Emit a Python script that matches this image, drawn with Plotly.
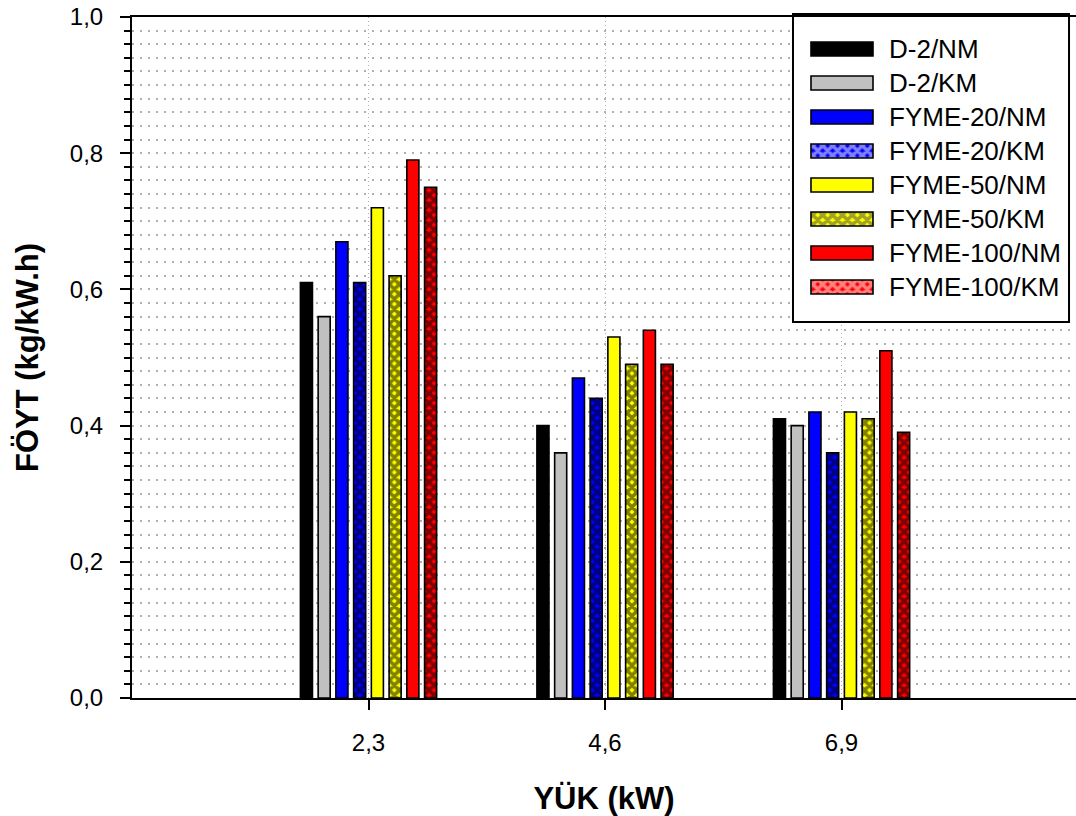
import plotly.graph_objects as go

# Engine load (kW) and specific fuel consumption per fuel / mode
loads = [2.3, 4.6, 6.9]

series_names = [
    "D-2/NM", "D-2/KM",
    "FYME-20/NM", "FYME-20/KM",
    "FYME-50/NM", "FYME-50/KM",
    "FYME-100/NM", "FYME-100/KM",
]

d2_nm = [0.61, 0.40, 0.41]
d2_km = [0.56, 0.36, 0.40]
fyme20_nm = [0.67, 0.47, 0.42]
fyme20_km = [0.61, 0.44, 0.36]
fyme50_nm = [0.72, 0.53, 0.42]
fyme50_km = [0.62, 0.49, 0.41]
fyme100_nm = [0.79, 0.54, 0.51]
fyme100_km = [0.75, 0.49, 0.39]

series_values = [d2_nm, d2_km, fyme20_nm, fyme20_km,
                 fyme50_nm, fyme50_km, fyme100_nm, fyme100_km]

colors = ["#000000", "#c0c0c0", "#0000ff", "#0000ff",
          "#ffff00", "#ffff00", "#ff0000", "#ff0000"]
hatches = ["", "", "", "x", "", "x", "", "x"]

y_ticks = [0.0, 0.2, 0.4, 0.6, 0.8, 1.0]

FONT = "Arial, Liberation Sans, sans-serif"
GRID = "#b0b0b0"
HATCH = dict(fgcolor="black", size=7, solidity=0.75, fillmode="overlay")

fig = go.Figure()

for name, vals, col, hatch in zip(series_names, series_values, colors, hatches):
    fig.add_trace(go.Bar(
        x=loads, y=vals, name=name,
        marker=dict(
            color=col,
            line=dict(color="black", width=1.6),
            pattern=dict(shape=hatch, **HATCH),
        ),
        showlegend=False,
    ))

# Legend drawn as an inset subplot: one swatch bar per series
fig.add_trace(go.Bar(
    x=[1] * len(series_names), y=series_names, orientation="h",
    xaxis="x2", yaxis="y2",
    marker=dict(
        color=colors,
        line=dict(color="black", width=1.6),
        pattern=dict(shape=hatches, **HATCH),
    ),
    showlegend=False, hoverinfo="skip",
))

for name in series_names:
    fig.add_annotation(
        x=0.7998, xref="paper", y=name, yref="y2",
        text=name, showarrow=False, xanchor="left", yanchor="middle",
        font=dict(family=FONT, size=26, color="black"),
    )

# Legend frame
fig.add_shape(type="rect", xref="paper", yref="paper",
              x0=0.7002, x1=0.9926, y0=0.5521, y1=1.0044,
              line=dict(color="black", width=2), layer="above")

fig.update_layout(
    width=1076, height=816,
    margin=dict(l=132, r=0, t=17, b=118),
    paper_bgcolor="white", plot_bgcolor="white",
    separators=", ",
    barmode="group", bargap=0.40, bargroupgap=0.32,
    font=dict(family=FONT, color="black"),
    xaxis=dict(
        range=[0, 9.18], tickvals=loads, tickformat=".1f",
        ticks="outside", ticklen=10, tickwidth=2, tickcolor="black",
        showline=True, linecolor="black", linewidth=2, mirror=True,
        showgrid=True, gridcolor=GRID, griddash="1px,3px", gridwidth=1,
        zeroline=False,
        tickfont=dict(family=FONT, size=24, color="black"),
        ticklabelstandoff=12,
        title=dict(text="<b>YÜK (kW)</b>", standoff=34,
                   font=dict(family=FONT, size=31, color="black")),
    ),
    yaxis=dict(
        range=[0, 1], tickvals=y_ticks, tickformat=".1f",
        ticks="outside", ticklen=10, tickwidth=2, tickcolor="black",
        showline=True, linecolor="black", linewidth=2, mirror=False,
        showgrid=True, gridcolor=GRID, griddash="1.5px,6.5px", gridwidth=1.5,
        zeroline=False,
        minor=dict(dtick=0.02, ticks="outside", ticklen=6, tickwidth=1.5,
                   tickcolor="black", showgrid=True, gridcolor=GRID,
                   griddash="1.5px,6.5px", gridwidth=1.5),
        tickfont=dict(family=FONT, size=24, color="black"),
        ticklabelstandoff=12,
        title=dict(text="<b>FÖYT (kg/kW.h)</b>", standoff=22,
                   font=dict(family=FONT, size=31, color="black")),
    ),
    xaxis2=dict(domain=[0.7002, 0.9926], anchor="y2",
                range=[-0.2903, 4.161], showgrid=False, zeroline=False,
                showticklabels=False, showline=False, ticks=""),
    yaxis2=dict(domain=[0.5521, 1.0], anchor="x2", type="category",
                range=[8.03, -0.941], showgrid=False, zeroline=False,
                showticklabels=False, showline=False, ticks=""),
)

fig.write_html("out.html")
